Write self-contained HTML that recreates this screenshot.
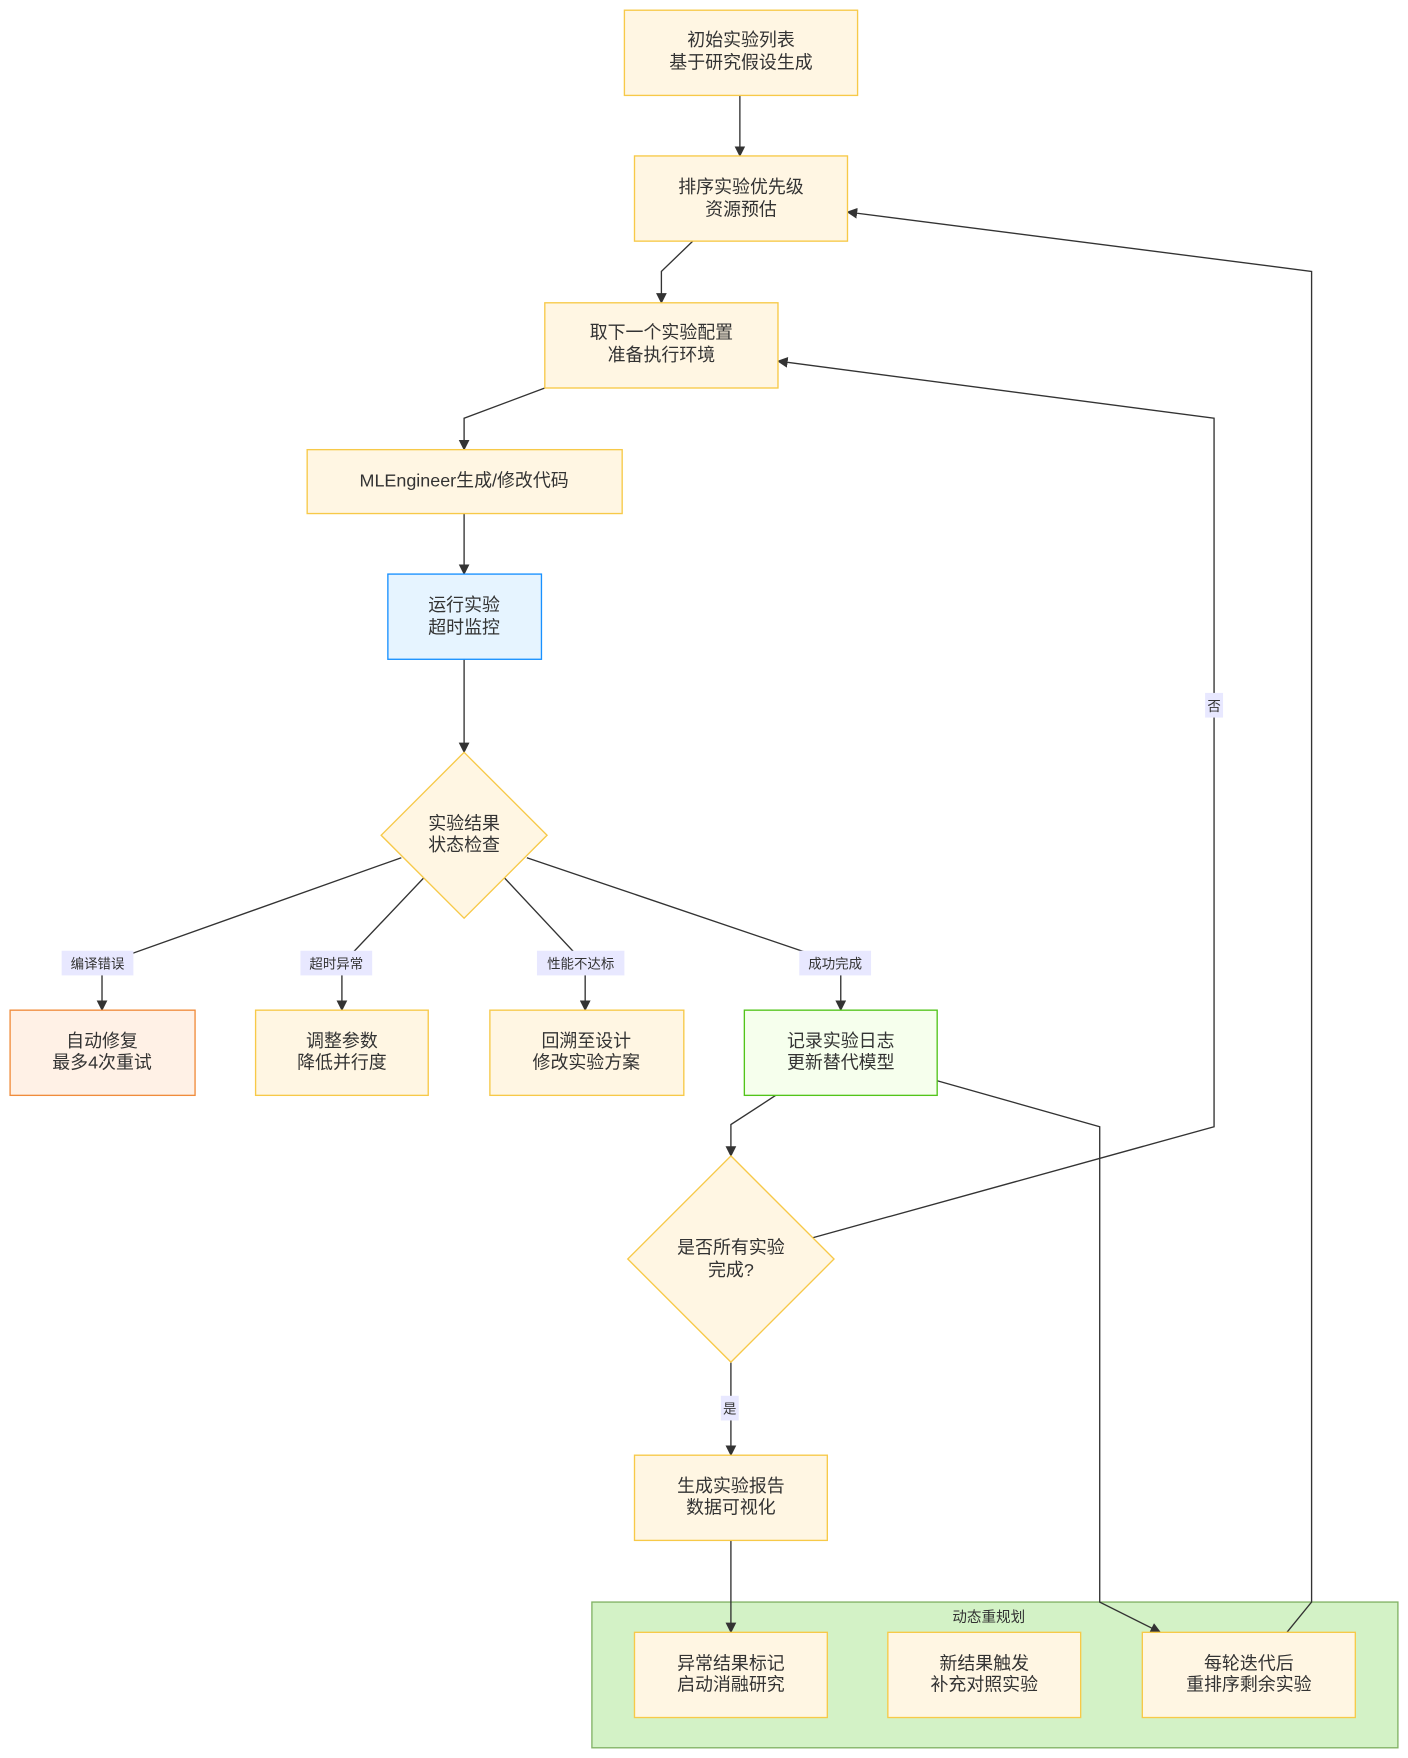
<!DOCTYPE html>
<html><head><meta charset="utf-8"><style>
html,body{margin:0;padding:0;background:#fff;}
svg{display:block;}
text{font-family:"Liberation Sans","Noto Sans CJK SC",sans-serif;fill:#333;}
</style></head><body>
<svg width="1408" height="1758" viewBox="0 0 1256 1568" xmlns="http://www.w3.org/2000/svg">
<defs><marker id="a" viewBox="0 0 10 10" refX="9" refY="5" markerWidth="8" markerHeight="8" orient="auto-start-reverse"><path d="M0,0L10,5L0,10z" fill="#333"/></marker></defs>
<rect x="528" y="1429" width="719" height="130" fill="#d3f2c6" stroke="#82b366" stroke-width="1.2"/>
<text x="882" y="1447" font-size="13" text-anchor="middle">动态重规划</text>
<g fill="none" stroke="#333" stroke-width="1.2" marker-end="url(#a)">
<path d="M660,85V139"/>
<path d="M618,215L590,242V270"/>
<path d="M486,346L414,373V401"/>
<path d="M414,458V512"/>
<path d="M414,588V671"/>
<path d="M358,765L91,860V901"/>
<path d="M378,783L305,860V901"/>
<path d="M450,783L522,860V901"/>
<path d="M470,765L750,860V901"/>
<path d="M692,977L652,1003V1031"/>
<path d="M725,1104L1083,1005V373L694,322"/>
<path d="M652,1215V1298"/>
<path d="M652,1374V1456"/>
<path d="M836,964L981,1005V1429L1035,1456"/>
<path d="M1148,1456L1170,1429V242L756,189"/>
</g>
<g font-size="12" text-anchor="middle">
<rect x="55" y="848" width="64" height="22" fill="#e8e8ff"/><text x="87" y="864">编译错误</text>
<rect x="268" y="848" width="64" height="22" fill="#e8e8ff"/><text x="300" y="864">超时异常</text>
<rect x="479" y="848" width="78" height="22" fill="#e8e8ff"/><text x="518" y="864">性能不达标</text>
<rect x="713" y="848" width="64" height="22" fill="#e8e8ff"/><text x="745" y="864">成功完成</text>
<rect x="643" y="1245" width="16" height="22" fill="#e8e8ff"/><text x="651" y="1261">是</text>
<rect x="1075" y="618" width="16" height="22" fill="#e8e8ff"/><text x="1083" y="634">否</text>
</g>
<g stroke-width="1.2">
<rect x="557" y="9" width="208" height="76" fill="#fff6e3" stroke="#f7c948"/>
<rect x="566" y="139" width="190" height="76" fill="#fff6e3" stroke="#f7c948"/>
<rect x="486" y="270" width="208" height="76" fill="#fff6e3" stroke="#f7c948"/>
<rect x="274" y="401" width="281" height="57" fill="#fff6e3" stroke="#f7c948"/>
<rect x="346" y="512" width="137" height="76" fill="#e6f4ff" stroke="#1890ff"/>
<path d="M414,671L488,745L414,819L340,745Z" fill="#fff6e3" stroke="#f7c948"/>
<rect x="9" y="901" width="165" height="76" fill="#fff1e6" stroke="#f08c3c"/>
<rect x="228" y="901" width="154" height="76" fill="#fff6e3" stroke="#f7c948"/>
<rect x="437" y="901" width="173" height="76" fill="#fff6e3" stroke="#f7c948"/>
<rect x="664" y="901" width="172" height="76" fill="#f6ffed" stroke="#52c41a"/>
<path d="M652,1031L744,1123L652,1215L560,1123Z" fill="#fff6e3" stroke="#f7c948"/>
<rect x="566" y="1298" width="172" height="76" fill="#fff6e3" stroke="#f7c948"/>
<rect x="566" y="1456" width="172" height="76" fill="#fff6e3" stroke="#f7c948"/>
<rect x="792" y="1456" width="172" height="76" fill="#fff6e3" stroke="#f7c948"/>
<rect x="1019" y="1456" width="190" height="76" fill="#fff6e3" stroke="#f7c948"/>
</g>
<g font-size="16" text-anchor="middle">
<text x="661" y="41">初始实验列表</text><text x="661" y="61">基于研究假设生成</text>
<text x="661" y="172">排序实验优先级</text><text x="661" y="192">资源预估</text>
<text x="590" y="302">取下一个实验配置</text><text x="590" y="322">准备执行环境</text>
<text x="414" y="434">MLEngineer生成/修改代码</text>
<text x="414" y="545">运行实验</text><text x="414" y="565">超时监控</text>
<text x="414" y="740">实验结果</text><text x="414" y="759">状态检查</text>
<text x="91" y="934">自动修复</text><text x="91" y="953">最多4次重试</text>
<text x="305" y="934">调整参数</text><text x="305" y="953">降低并行度</text>
<text x="523" y="934">回溯至设计</text><text x="523" y="953">修改实验方案</text>
<text x="750" y="934">记录实验日志</text><text x="750" y="953">更新替代模型</text>
<text x="652" y="1118">是否所有实验</text><text x="652" y="1138">完成?</text>
<text x="652" y="1331">生成实验报告</text><text x="652" y="1350">数据可视化</text>
<text x="652" y="1489">异常结果标记</text><text x="652" y="1508">启动消融研究</text>
<text x="878" y="1489">新结果触发</text><text x="878" y="1508">补充对照实验</text>
<text x="1114" y="1489">每轮迭代后</text><text x="1114" y="1508">重排序剩余实验</text>
</g>
</svg>
</body></html>
